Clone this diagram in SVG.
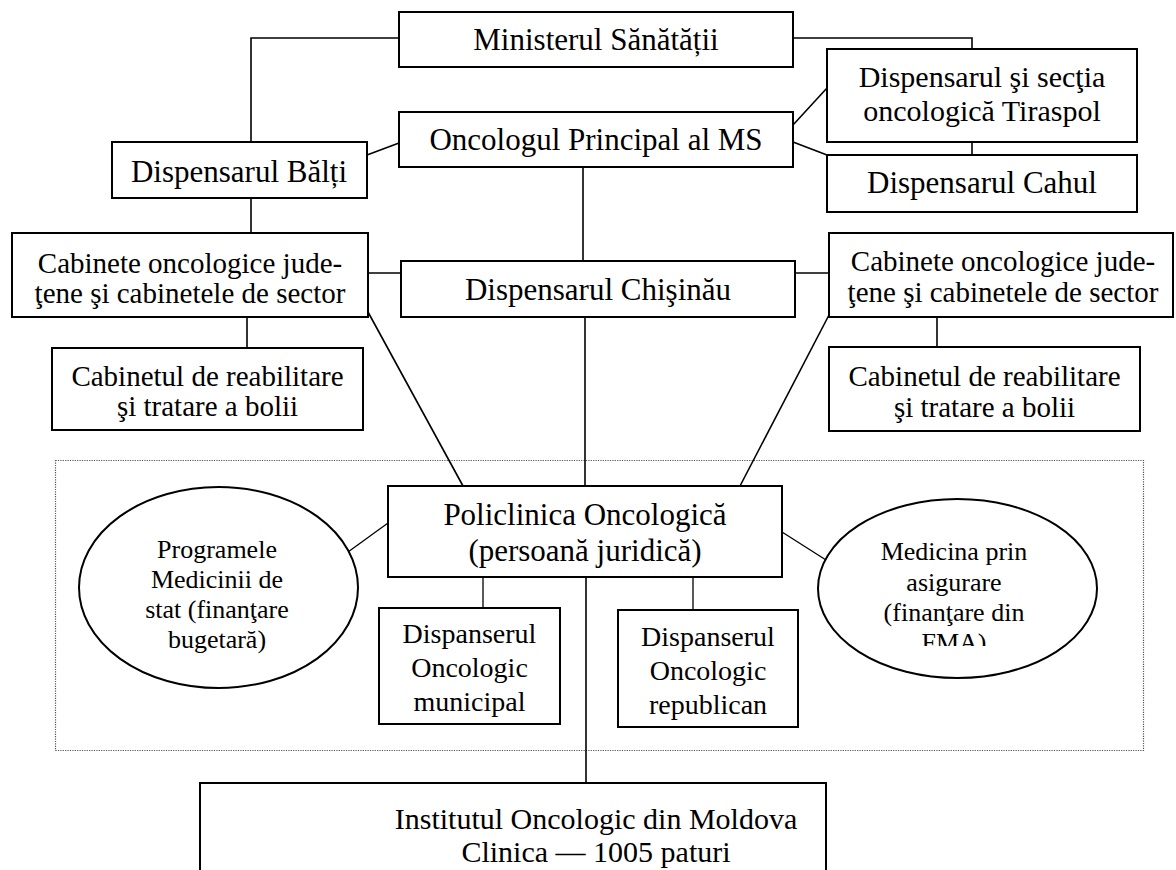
<svg xmlns="http://www.w3.org/2000/svg" width="1176" height="870" viewBox="0 0 1176 870">
<style>
.box{fill:#fff;stroke:#000;stroke-width:2}
.ell{fill:#fff;stroke:#000;stroke-width:2}
.ln{fill:none;stroke:#000;stroke-width:1.6}
.thin{fill:none;stroke:#000;stroke-width:1.3}
.dot{fill:none;stroke:#555;stroke-width:1.2;stroke-dasharray:1.2 1.2}
text{font-family:"Liberation Serif","Times New Roman",serif;fill:#000;text-anchor:middle}
.t31{font-size:31px}
.t30{font-size:30px}
.t29{font-size:29px}
.t28{font-size:28px}
.t26{font-size:26px}
</style>
<defs>
<clipPath id="fmaclip"><rect x="818" y="480" width="280" height="166"/></clipPath>
</defs>
<rect class="dot" x="55.5" y="460.5" width="1088" height="290"/>
<g id="connectors">
<polyline class="ln" points="399,38 251,38 251,142"/>
<polyline class="ln" points="793,38 972,38 972,49"/>
<line class="ln" x1="367" y1="155" x2="399" y2="143"/>
<line class="ln" x1="793" y1="125" x2="827" y2="88"/>
<line class="ln" x1="793" y1="142" x2="827" y2="155"/>
<line class="ln" x1="972" y1="142" x2="972" y2="155"/>
<line class="ln" x1="583" y1="167" x2="583" y2="261"/>
<line class="ln" x1="251" y1="198" x2="251" y2="233"/>
<line class="ln" x1="368" y1="273" x2="402" y2="273"/>
<line class="ln" x1="795" y1="273" x2="829" y2="273"/>
<line class="ln" x1="247" y1="317" x2="247" y2="348"/>
<line class="ln" x1="937" y1="317" x2="937" y2="347"/>
<line class="ln" x1="368" y1="312" x2="463" y2="486"/>
<line class="ln" x1="829" y1="315" x2="740" y2="486"/>
<line class="ln" x1="585" y1="317" x2="585" y2="486"/>
<line class="thin" x1="348" y1="552" x2="388" y2="523"/>
<line class="thin" x1="782" y1="532" x2="826" y2="560"/>
<line class="thin" x1="483" y1="577" x2="483" y2="608"/>
<line class="thin" x1="693" y1="577" x2="693" y2="610"/>
<line class="ln" x1="586" y1="577" x2="586" y2="783"/>
</g>
<g id="ministerul">
<rect class="box" x="399" y="12" width="394" height="55"/>
<text class="t31" x="596" y="50">Ministerul Sănătății</text>
</g>
<g id="oncologul">
<rect class="box" x="399" y="112" width="394" height="55"/>
<text class="t31" x="596" y="150">Oncologul Principal al MS</text>
</g>
<g id="balti">
<rect class="box" x="112" y="142" width="255" height="56"/>
<text class="t31" x="239" y="182">Dispensarul Bălți</text>
</g>
<g id="tiraspol">
<rect class="box" x="827" y="49" width="310" height="93"/>
<text class="t30" x="982" y="87">Dispensarul şi secţia</text>
<text class="t30" x="982" y="121">oncologică Tiraspol</text>
</g>
<g id="cahul">
<rect class="box" x="827" y="155" width="310" height="57"/>
<text class="t31" x="982" y="193">Dispensarul Cahul</text>
</g>
<g id="cabinete-stanga">
<rect class="box" x="12" y="233" width="356" height="84"/>
<text class="t29" x="190" y="273">Cabinete oncologice jude-</text>
<text class="t29" x="190" y="303">ţene şi cabinetele de sector</text>
</g>
<g id="chisinau">
<rect class="box" x="401" y="261" width="394" height="56"/>
<text class="t31" x="598" y="300">Dispensarul Chişinău</text>
</g>
<g id="cabinete-dreapta">
<rect class="box" x="829" y="233" width="344" height="84"/>
<text class="t29" x="1003" y="271">Cabinete oncologice jude-</text>
<text class="t29" x="1003" y="302">ţene şi cabinetele de sector</text>
</g>
<g id="reabilitare-stanga">
<rect class="box" x="52" y="348" width="311" height="82"/>
<text class="t29" x="207.5" y="386">Cabinetul de reabilitare</text>
<text class="t29" x="207.5" y="416">şi tratare a bolii</text>
</g>
<g id="reabilitare-dreapta">
<rect class="box" x="829" y="347" width="311" height="84"/>
<text class="t29" x="984.5" y="386">Cabinetul de reabilitare</text>
<text class="t29" x="984.5" y="417">şi tratare a bolii</text>
</g>
<g id="policlinica">
<rect class="box" x="388" y="486" width="394" height="91"/>
<text class="t31" x="585" y="525">Policlinica Oncologică</text>
<text class="t31" x="585" y="561">(persoană juridică)</text>
</g>
<g id="programele">
<ellipse class="ell" cx="218.5" cy="587.5" rx="139.5" ry="100.5"/>
<text class="t26" x="217" y="558">Programele</text>
<text class="t26" x="217" y="588">Medicinii de</text>
<text class="t26" x="217" y="618">stat (finanţare</text>
<text class="t26" x="217" y="648">bugetară)</text>
</g>
<g id="asigurare">
<ellipse class="ell" cx="957.5" cy="588.5" rx="139.5" ry="89.5"/>
<text class="t26" x="954" y="560">Medicina prin</text>
<text class="t26" x="954" y="591">asigurare</text>
<text class="t26" x="954" y="621">(finanţare din</text>
<text class="t26" x="954" y="651" clip-path="url(#fmaclip)">FMA)</text>
</g>
<g id="municipal">
<rect class="box" x="379" y="608" width="181" height="116"/>
<text class="t28" x="469.5" y="643">Dispanserul</text>
<text class="t28" x="469.5" y="677">Oncologic</text>
<text class="t28" x="469.5" y="711">municipal</text>
</g>
<g id="republican">
<rect class="box" x="618" y="610" width="180" height="117"/>
<text class="t28" x="708" y="646">Dispanserul</text>
<text class="t28" x="708" y="680">Oncologic</text>
<text class="t28" x="708" y="714">republican</text>
</g>
<g id="institutul">
<rect class="box" x="200" y="783" width="626" height="120"/>
<text class="t30" x="596" y="829">Institutul Oncologic din Moldova</text>
<text class="t30" x="596" y="862">Clinica — 1005 paturi</text>
</g>
</svg>
